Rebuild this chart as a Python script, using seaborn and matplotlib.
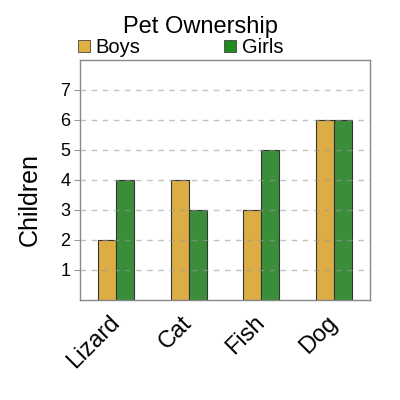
import matplotlib
matplotlib.use('Agg')
import matplotlib.pyplot as plt
import seaborn as sns
import pandas as pd
from matplotlib.lines import Line2D

pets = ['Lizard', 'Cat', 'Fish', 'Dog']
boys = [2, 4, 3, 6]
girls = [4, 3, 5, 6]
groups = ['Boys', 'Girls']
colors = {'Boys': '#DDAD45', 'Girls': '#3A8E3A'}
legend_colors = ['#E0B040', '#1E8C1E']

df = pd.DataFrame({
    'pet': pets * 2,
    'count': boys + girls,
    'who': ['Boys'] * 4 + ['Girls'] * 4,
})

sns.set_style('white')
plt.rcParams['font.family'] = ['Liberation Sans', 'DejaVu Sans']
plt.rcParams['text.color'] = 'black'
plt.rcParams['xtick.color'] = 'black'
plt.rcParams['ytick.color'] = 'black'
plt.rcParams['axes.labelcolor'] = 'black'

fig = plt.figure(figsize=(4, 4), dpi=100)
ax = fig.add_axes([0.2, 0.25, 0.725, 0.6])

sns.barplot(data=df, x='pet', y='count', hue='who', palette=colors,
            width=0.5, gap=0, edgecolor='#333333', linewidth=0.8,
            saturation=1, legend=False, ax=ax)

ax.set_xlim(-0.5, 3.5)
ax.set_ylim(0, 8)
ax.set_yticks(range(1, 8))
ax.yaxis.grid(True, linestyle=(0, (4, 4)), color='#999999', alpha=0.6, linewidth=1)
ax.set_axisbelow(False)
ax.tick_params(axis='y', labelsize=13, length=4, color='#999999', left=True, pad=3)
ax.tick_params(axis='x', labelsize=17, length=0, pad=14)
plt.setp(ax.get_xticklabels(), rotation=45, ha='right', va='center', rotation_mode='anchor')
ax.set_xlabel('')
ax.set_ylabel('')
fig.text(0.075, 0.5, 'Children', fontsize=18, rotation=90, ha='center', va='center')
for s in ax.spines.values():
    s.set_color('#888888')
    s.set_linewidth(1)

fig.text(0.5, 0.917, 'Pet Ownership', fontsize=17, ha='center', va='baseline')
handles = [Line2D([], [], marker='s', linestyle='none', markersize=8.5,
                  markerfacecolor=c, markeredgecolor='#444444', markeredgewidth=0.6)
           for c in legend_colors]
fig.legend(handles, groups, ncol=2, loc='lower left', bbox_to_anchor=(0.19, 0.857),
           frameon=False, fontsize=14.5, handlelength=0.75, handletextpad=0.2,
           columnspacing=4.1, borderaxespad=0, borderpad=0)

fig.savefig('out.png', dpi=100)
